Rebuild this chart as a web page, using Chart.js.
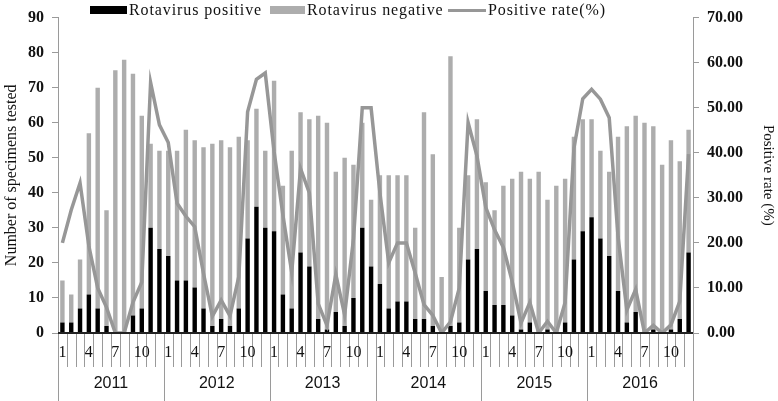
<!DOCTYPE html>
<html>
<head>
<meta charset="utf-8">
<script src="https://cdn.jsdelivr.net/npm/chart.js@4.4.0/dist/chart.umd.min.js"></script>
<style>
  html, body { margin: 0; padding: 0; background: #fff; }
  #wrap { position: relative; width: 778px; height: 401px; }
  .lg { position: absolute; font-family: "Liberation Serif", serif; font-size: 16px; letter-spacing: 0.9px; color: #111; white-space: nowrap; }
  .sw { position: absolute; }
</style>
</head>
<body>
<div id="wrap">
  <canvas id="myChart" width="778" height="401"></canvas>
  <div class="sw" style="left:90px;top:6px;width:37px;height:8px;background:#000;"></div>
  <div class="lg" style="left:129px;top:1px;">Rotavirus positive</div>
  <div class="sw" style="left:270px;top:6px;width:35px;height:8px;background:#adadad;"></div>
  <div class="lg" style="left:307px;top:1px;">Rotavirus negative</div>
  <div class="sw" style="left:448px;top:9px;width:38px;height:3px;background:#979797;"></div>
  <div class="lg" style="left:488px;top:1px;">Positive rate(%)</div>
</div>
<script>
const ctx = document.getElementById("myChart");

// 연도, 월 라벨
var years = ["2011", "2012", "2013", "2014", "2015", "2016"];
var months = ["1", "2", "3", "4", "5", "6", "7", "8", "9", "10", "11", "12"];
var shownMonths = ["1", "4", "7", "10"];

// 양성 건수 (월별)
var positive = [
  3, 3, 7, 11, 7, 2, 0, 0, 5, 7, 30, 24,
  22, 15, 15, 13, 7, 2, 4, 2, 7, 27, 36, 30,
  29, 11, 7, 23, 19, 4, 1, 6, 2, 10, 30, 19,
  14, 7, 9, 9, 4, 4, 2, 0, 2, 3, 21, 24,
  12, 8, 8, 5, 1, 3, 0, 1, 0, 3, 21, 29,
  33, 27, 22, 12, 3, 6, 0, 1, 0, 1, 4, 23,
];
// 음성 건수 (월별)
var negative = [
  12, 8, 14, 46, 63, 33, 75, 78, 69, 55, 24, 28,
  30, 37, 43, 42, 46, 52, 51, 51, 49, 28, 28, 22,
  43, 31, 45, 40, 42, 58, 59, 40, 48, 38, 30, 19,
  31, 38, 36, 36, 26, 59, 49, 16, 77, 27, 24, 37,
  31, 27, 34, 39, 45, 41, 46, 37, 42, 41, 35, 32,
  28, 25, 24, 44, 56, 56, 60, 58, 48, 54, 45, 35,
];
// 양성률 (%)
var positiveRate = [
  20.0, 27.3, 33.3, 19.3, 10.0, 5.7, 0, 0, 6.8, 11.3, 55.6, 46.2,
  42.3, 28.8, 25.9, 23.6, 13.2, 3.7, 7.3, 3.8, 12.5, 49.1, 56.3, 57.7,
  40.3, 26.2, 13.5, 36.5, 31.1, 6.5, 1.7, 13.0, 4.0, 20.8, 50.0, 50.0,
  31.1, 15.6, 20.0, 20.0, 13.3, 6.3, 3.9, 0, 2.5, 10.0, 46.7, 39.3,
  27.9, 22.9, 19.0, 11.4, 2.2, 6.8, 0, 2.6, 0, 6.8, 41.0, 52.0,
  54.1, 51.9, 47.8, 21.4, 5.1, 9.7, 0, 1.7, 0, 1.8, 7.0, 39.7,
];

// x축 카테고리 (연도-월)
var labels = [];
years.forEach(function (y) {
  months.forEach(function (m) {
    labels.push(y + "-" + m);
  });
});

// 월/연도 2단 x축 그리기
var monthYearAxis = {
  id: "monthYearAxis",
  afterDraw: function (chart) {
    var c = chart.ctx;
    var xs = chart.scales.x;
    var area = chart.chartArea;
    var step = xs.getPixelForValue(1) - xs.getPixelForValue(0);
    c.save();
    c.strokeStyle = "#9a9a9a";
    c.lineWidth = 1;
    for (var i = 0; i <= labels.length; i++) {
      var x = Math.round(xs.getPixelForValue(i) - step / 2) + 0.5;
      var isYear = i % 12 === 0;
      c.beginPath();
      c.moveTo(x, area.bottom);
      c.lineTo(x, isYear ? area.bottom + 68 : area.bottom + 34);
      c.stroke();
    }
    // 기준선
    c.strokeStyle = "#222";
    c.lineWidth = 2;
    c.beginPath();
    c.moveTo(area.left, area.bottom);
    c.lineTo(area.right, area.bottom);
    c.stroke();

    c.fillStyle = "#111";
    c.textAlign = "center";
    c.textBaseline = "middle";
    c.font = "16px 'Liberation Serif'";
    for (var j = 0; j < labels.length; j++) {
      var m = months[j % 12];
      if (shownMonths.indexOf(m) >= 0) {
        c.fillText(m, xs.getPixelForValue(j), area.bottom + 20);
      }
    }
    c.font = "16px 'Liberation Sans'";
    years.forEach(function (y, k) {
      var x0 = xs.getPixelForValue(k * 12) - step / 2;
      c.fillText(y, x0 + step * 6, area.bottom + 51);
    });
    c.restore();
  },
};

new Chart(ctx, {
  type: "bar",
  data: {
    labels: labels,
    datasets: [
      {
        type: "line",
        label: "Positive rate(%)",
        data: positiveRate,
        yAxisID: "y1",
        borderColor: "#979797",
        borderWidth: 3.5,
        pointRadius: 0,
        tension: 0,
        order: 0,
      },
      {
        label: "Rotavirus positive",
        data: positive,
        backgroundColor: "#000",
        stack: "s",
        barPercentage: 0.5,
        categoryPercentage: 1,
        order: 1,
      },
      {
        label: "Rotavirus negative",
        data: negative,
        backgroundColor: "#adadad",
        stack: "s",
        barPercentage: 0.5,
        categoryPercentage: 1,
        order: 1,
      },
    ],
  },
  options: {
    responsive: false,
    animation: false,
    layout: { padding: { top: 15, left: 0, right: 0, bottom: 0 } },
    plugins: { legend: { display: false }, tooltip: { enabled: false } },
    scales: {
      x: {
        stacked: true,
        ticks: { display: false },
        grid: { display: false },
        border: { display: false },
        afterFit: function (s) { s.height = 68; },
      },
      y: {
        stacked: true,
        position: "left",
        min: 0,
        max: 90,
        ticks: { stepSize: 10, color: "#111", font: { family: "Liberation Serif", size: 16, weight: "bold" }, padding: 8 },
        grid: { drawOnChartArea: false, tickLength: 6, color: "#9a9a9a" },
        border: { color: "#9a9a9a" },
        title: {
          display: true,
          text: "Number of specimens tested",
          color: "#111",
          font: { family: "Liberation Serif", size: 16 },
          padding: { top: 2, bottom: 0 },
        },
        afterFit: function (s) { s.width = 58; },
      },
      y1: {
        position: "right",
        min: 0,
        max: 70,
        ticks: {
          stepSize: 10,
          color: "#111",
          font: { family: "Liberation Serif", size: 16, weight: "bold" },
          padding: 8,
          callback: function (v) { return v.toFixed(2); },
        },
        grid: { drawOnChartArea: false, tickLength: 6, color: "#9a9a9a" },
        border: { color: "#9a9a9a" },
        title: {
          display: true,
          text: "Positive rate (%)",
          color: "#111",
          font: { family: "Liberation Serif", size: 15 },
          padding: { top: 1, bottom: 0 },
        },
        afterFit: function (s) { s.width = 85; },
      },
    },
  },
  plugins: [monthYearAxis],
});
</script>
</body>
</html>
